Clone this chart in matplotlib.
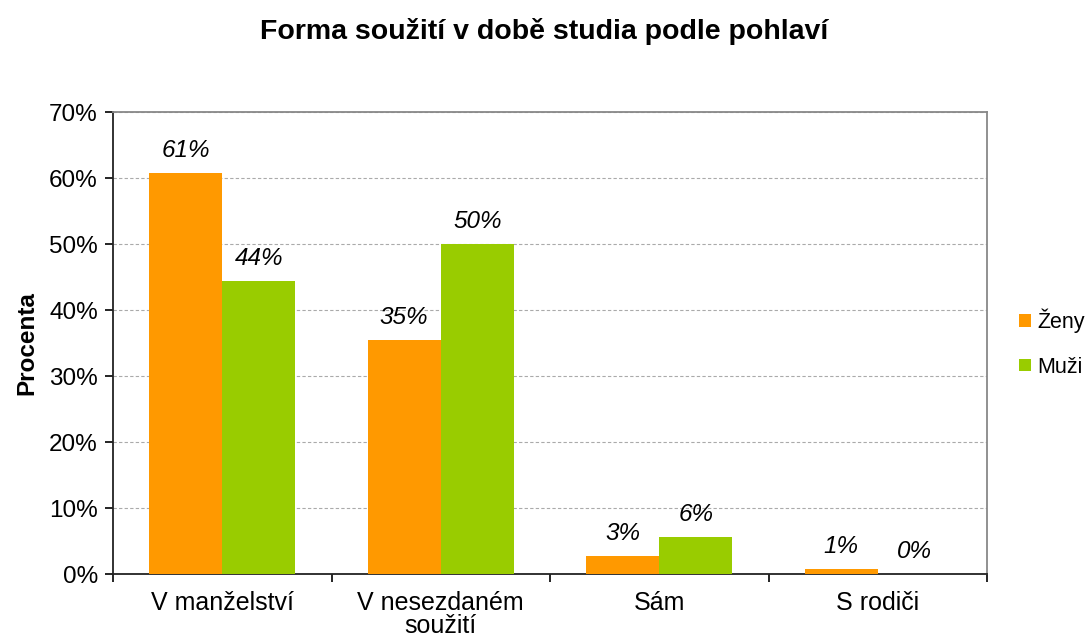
import matplotlib
matplotlib.use("Agg")
import matplotlib.pyplot as plt
import numpy as np
from matplotlib.ticker import FuncFormatter

plt.rcParams['font.family'] = ['Liberation Sans', 'DejaVu Sans']

categories = ["V manželství", "V nesezdaném\nsoužití", "Sám", "S rodiči"]
zeny = [60.8, 35.5, 2.7, 0.8]
muzi = [44.4, 50.0, 5.6, 0.0]
zeny_labels = ["61%", "35%", "3%", "1%"]
muzi_labels = ["44%", "50%", "6%", "0%"]

ORANGE = "#FF9900"
GREEN = "#99CC00"

fig = plt.figure(figsize=(10.88, 6.39), dpi=100)
ax = fig.add_axes([0.1039, 0.1017, 0.8033, 0.7230])

x = np.arange(len(categories))
w = 0.335
b1 = ax.bar(x - w / 2, zeny, w, color=ORANGE, label="Ženy", zorder=3)
b2 = ax.bar(x + w / 2, muzi, w, color=GREEN, label="Muži", zorder=3)

for bars, labels in ((b1, zeny_labels), (b2, muzi_labels)):
    for bar, lab in zip(bars, labels):
        ax.annotate(lab, (bar.get_x() + bar.get_width() / 2, bar.get_height()),
                    xytext=(0, 8), textcoords="offset points",
                    ha="center", va="bottom", fontsize=17.5, style="italic")

ax.set_xlim(-0.5, len(categories) - 0.5)
ax.set_ylim(0, 70)
ax.set_yticks(range(0, 71, 10))
ax.yaxis.set_major_formatter(FuncFormatter(lambda v, p: f"{v:.0f}%"))
ax.set_xticks(x)
ax.set_xticklabels(categories, fontsize=18, linespacing=0.95)
ax.set_xticks(np.arange(-0.5, len(categories)), minor=True)
ax.tick_params(axis="x", which="major", length=0, pad=12)
ax.tick_params(axis="x", which="minor", length=6, width=1.2, direction="out")
ax.tick_params(axis="y", labelsize=17.5, length=6, width=1.2, direction="out", pad=5)

ax.grid(axis="y", color="#AAAAAA", linestyle=(0, (3, 2)), linewidth=0.8, zorder=0)
for s in ("left", "bottom"):
    ax.spines[s].set_color("#222222")
    ax.spines[s].set_linewidth(1.3)
for s in ("top", "right"):
    ax.spines[s].set_color("#888888")
    ax.spines[s].set_linewidth(1.3)

ax.set_ylabel("Procenta", fontsize=17.5, fontweight="bold", labelpad=8)
fig.suptitle("Forma soužití v době studia podle pohlaví", fontsize=20.5,
             fontweight="bold", y=0.972)

ax.legend(loc="center left", bbox_to_anchor=(1.019, 0.50), frameon=False,
          fontsize=15.5, handlelength=0.55, handleheight=0.55, handletextpad=0.3,
          labelspacing=1.1, borderaxespad=0.3)

fig.savefig("out.png", dpi=100)
